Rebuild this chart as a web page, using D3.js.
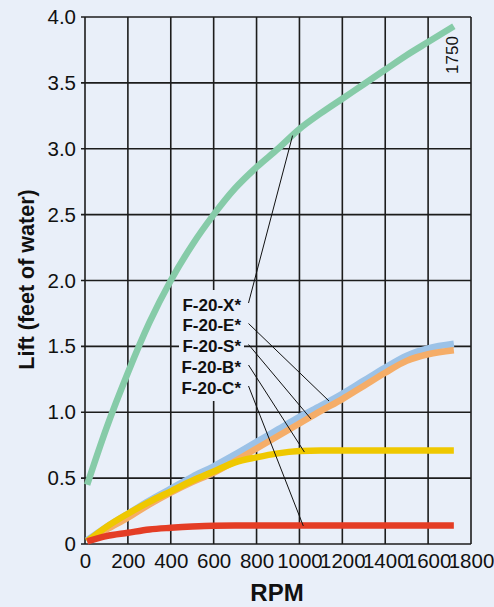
<!DOCTYPE html>
<html><head><meta charset="utf-8">
<script src="https://cdn.jsdelivr.net/npm/d3@7"></script>
<style>
html,body{margin:0;padding:0;background:#e9eff9;}
svg{display:block;}
</style></head>
<body>
<script>
const rpmTicks = [0,200,400,600,800,1000,1200,1400,1600,1800];
const liftTicks = [0,0.5,1.0,1.5,2.0,2.5,3.0,3.5,4.0];
const liftTickLabels = ["0","0.5","1.0","1.5","2.0","2.5","3.0","3.5","4.0"];

const seriesNames = ["F-20-X*","F-20-E*","F-20-S*","F-20-B*","F-20-C*"];
const rpm = [10,100,200,300,400,500,600,700,800,900,1000,1100,1200,1300,1400,1500,1600,1720];
const liftX = [0.45,0.88,1.30,1.68,2.00,2.27,2.50,2.70,2.86,3.00,3.15,3.27,3.38,3.49,3.60,3.71,3.81,3.93];
const liftE = [0.03,0.13,0.23,0.33,0.42,0.51,0.59,0.68,0.775,0.87,0.965,1.05,1.14,1.24,1.34,1.43,1.485,1.52];
const liftS = [0.02,0.11,0.20,0.30,0.39,0.47,0.54,0.63,0.725,0.82,0.915,1.01,1.10,1.20,1.30,1.39,1.44,1.47];
const liftB = [0.02,0.13,0.23,0.32,0.40,0.48,0.55,0.62,0.658,0.688,0.705,0.71,0.71,0.71,0.71,0.71,0.71,0.71];
const liftC = [0.02,0.06,0.085,0.11,0.123,0.133,0.139,0.14,0.14,0.14,0.14,0.14,0.14,0.14,0.14,0.14,0.14,0.14];
// leader line targets on curves (rpm, lift)
const leaderRpm = [968,1138,1054,1023,1018];
const leaderLift = [3.10,1.085,0.949,0.698,0.137];
const cornerLabel = "1750";

const W=494,H=607;
const bg="#e9eff9";
const svg=d3.select("body").append("svg").attr("width",W).attr("height",H);
svg.append("rect").attr("width",W).attr("height",H).attr("fill",bg);

const x=d3.scaleLinear().domain([0,1800]).range([85,471]);
const y=d3.scaleLinear().domain([0,4]).range([544,17]);
const narrow="'Liberation Sans Narrow','Arial Narrow','Liberation Sans',Arial,sans-serif";
const gridColor="#1c1c1c";

// grid
const g=svg.append("g");
g.selectAll(".vg").data(rpmTicks).join("line")
 .attr("x1",d=>x(d)).attr("x2",d=>x(d)).attr("y1",y(0)).attr("y2",y(4))
 .attr("stroke",gridColor).attr("stroke-width",1.6);
g.selectAll(".hg").data(liftTicks).join("line")
 .attr("x1",x(0)-4).attr("x2",x(1800)).attr("y1",d=>y(d)).attr("y2",d=>y(d))
 .attr("stroke",gridColor).attr("stroke-width",1.6);

// axes labels
const yAxis=d3.axisLeft(y).tickValues(liftTicks).tickFormat((d,i)=>liftTickLabels[i]).tickSize(0).tickPadding(9);
const ya=svg.append("g").attr("transform",`translate(${x(0)},0)`).call(yAxis);
ya.select(".domain").remove();
ya.selectAll("text").attr("font-family",narrow).attr("font-size",20.5).attr("fill","#111");
const xAxis=d3.axisBottom(x).tickValues(rpmTicks).tickFormat(d3.format("d")).tickSize(0).tickPadding(9);
const xa=svg.append("g").attr("transform",`translate(0,${y(0)})`).call(xAxis);
xa.select(".domain").remove();
xa.selectAll("text").attr("font-family",narrow).attr("font-size",20.5).attr("fill","#111");

svg.append("text").attr("x",x(900)-1).attr("y",601).attr("text-anchor","middle")
 .attr("font-family",narrow).attr("font-weight","bold").attr("font-size",24).attr("fill","#111").text("RPM");
svg.append("text").attr("transform",`translate(34,${y(2)-1}) rotate(-90)`).attr("text-anchor","middle")
 .attr("font-family",narrow).attr("font-weight","bold").attr("font-size",21.5).attr("fill","#111").text("Lift (feet of water)");

// curves
const line=d3.line().x(d=>x(d[0])).y(d=>y(d[1])).curve(d3.curveMonotoneX);
const curves=[
 {v:liftE,c:"#9cc2e7"},
 {v:liftS,c:"#f5ad68"},
 {v:liftB,c:"#efc800"},
 {v:liftC,c:"#e43d25"},
 {v:liftX,c:"#86cba8"}
];
curves.forEach(s=>{
 svg.append("path").datum(rpm.map((r,i)=>[r,s.v[i]])).attr("d",line)
  .attr("fill","none").attr("stroke",s.c).attr("stroke-width",6.5);
});

// label box
svg.append("rect").attr("x",179).attr("y",290).attr("width",65).attr("height",111).attr("fill",bg);
const labelBase=[310.5,331,352,372.5,393.5];
seriesNames.forEach((n,i)=>{
 svg.append("text").attr("x",241).attr("y",labelBase[i]).attr("text-anchor","end")
  .attr("font-family","'Liberation Sans',Arial,sans-serif").attr("font-weight","bold").attr("font-size",17)
  .attr("fill","#111").text(n);
 svg.append("line").attr("x1",248.5).attr("y1",labelBase[i]-7.5)
  .attr("x2",x(leaderRpm[i])).attr("y2",y(leaderLift[i]))
  .attr("stroke","#111").attr("stroke-width",1);
});

svg.append("text").attr("transform",`translate(458,55) rotate(-90)`).attr("text-anchor","middle")
 .attr("font-family",narrow).attr("font-size",17).attr("fill","#111").text(cornerLabel);
</script>
</body></html>
